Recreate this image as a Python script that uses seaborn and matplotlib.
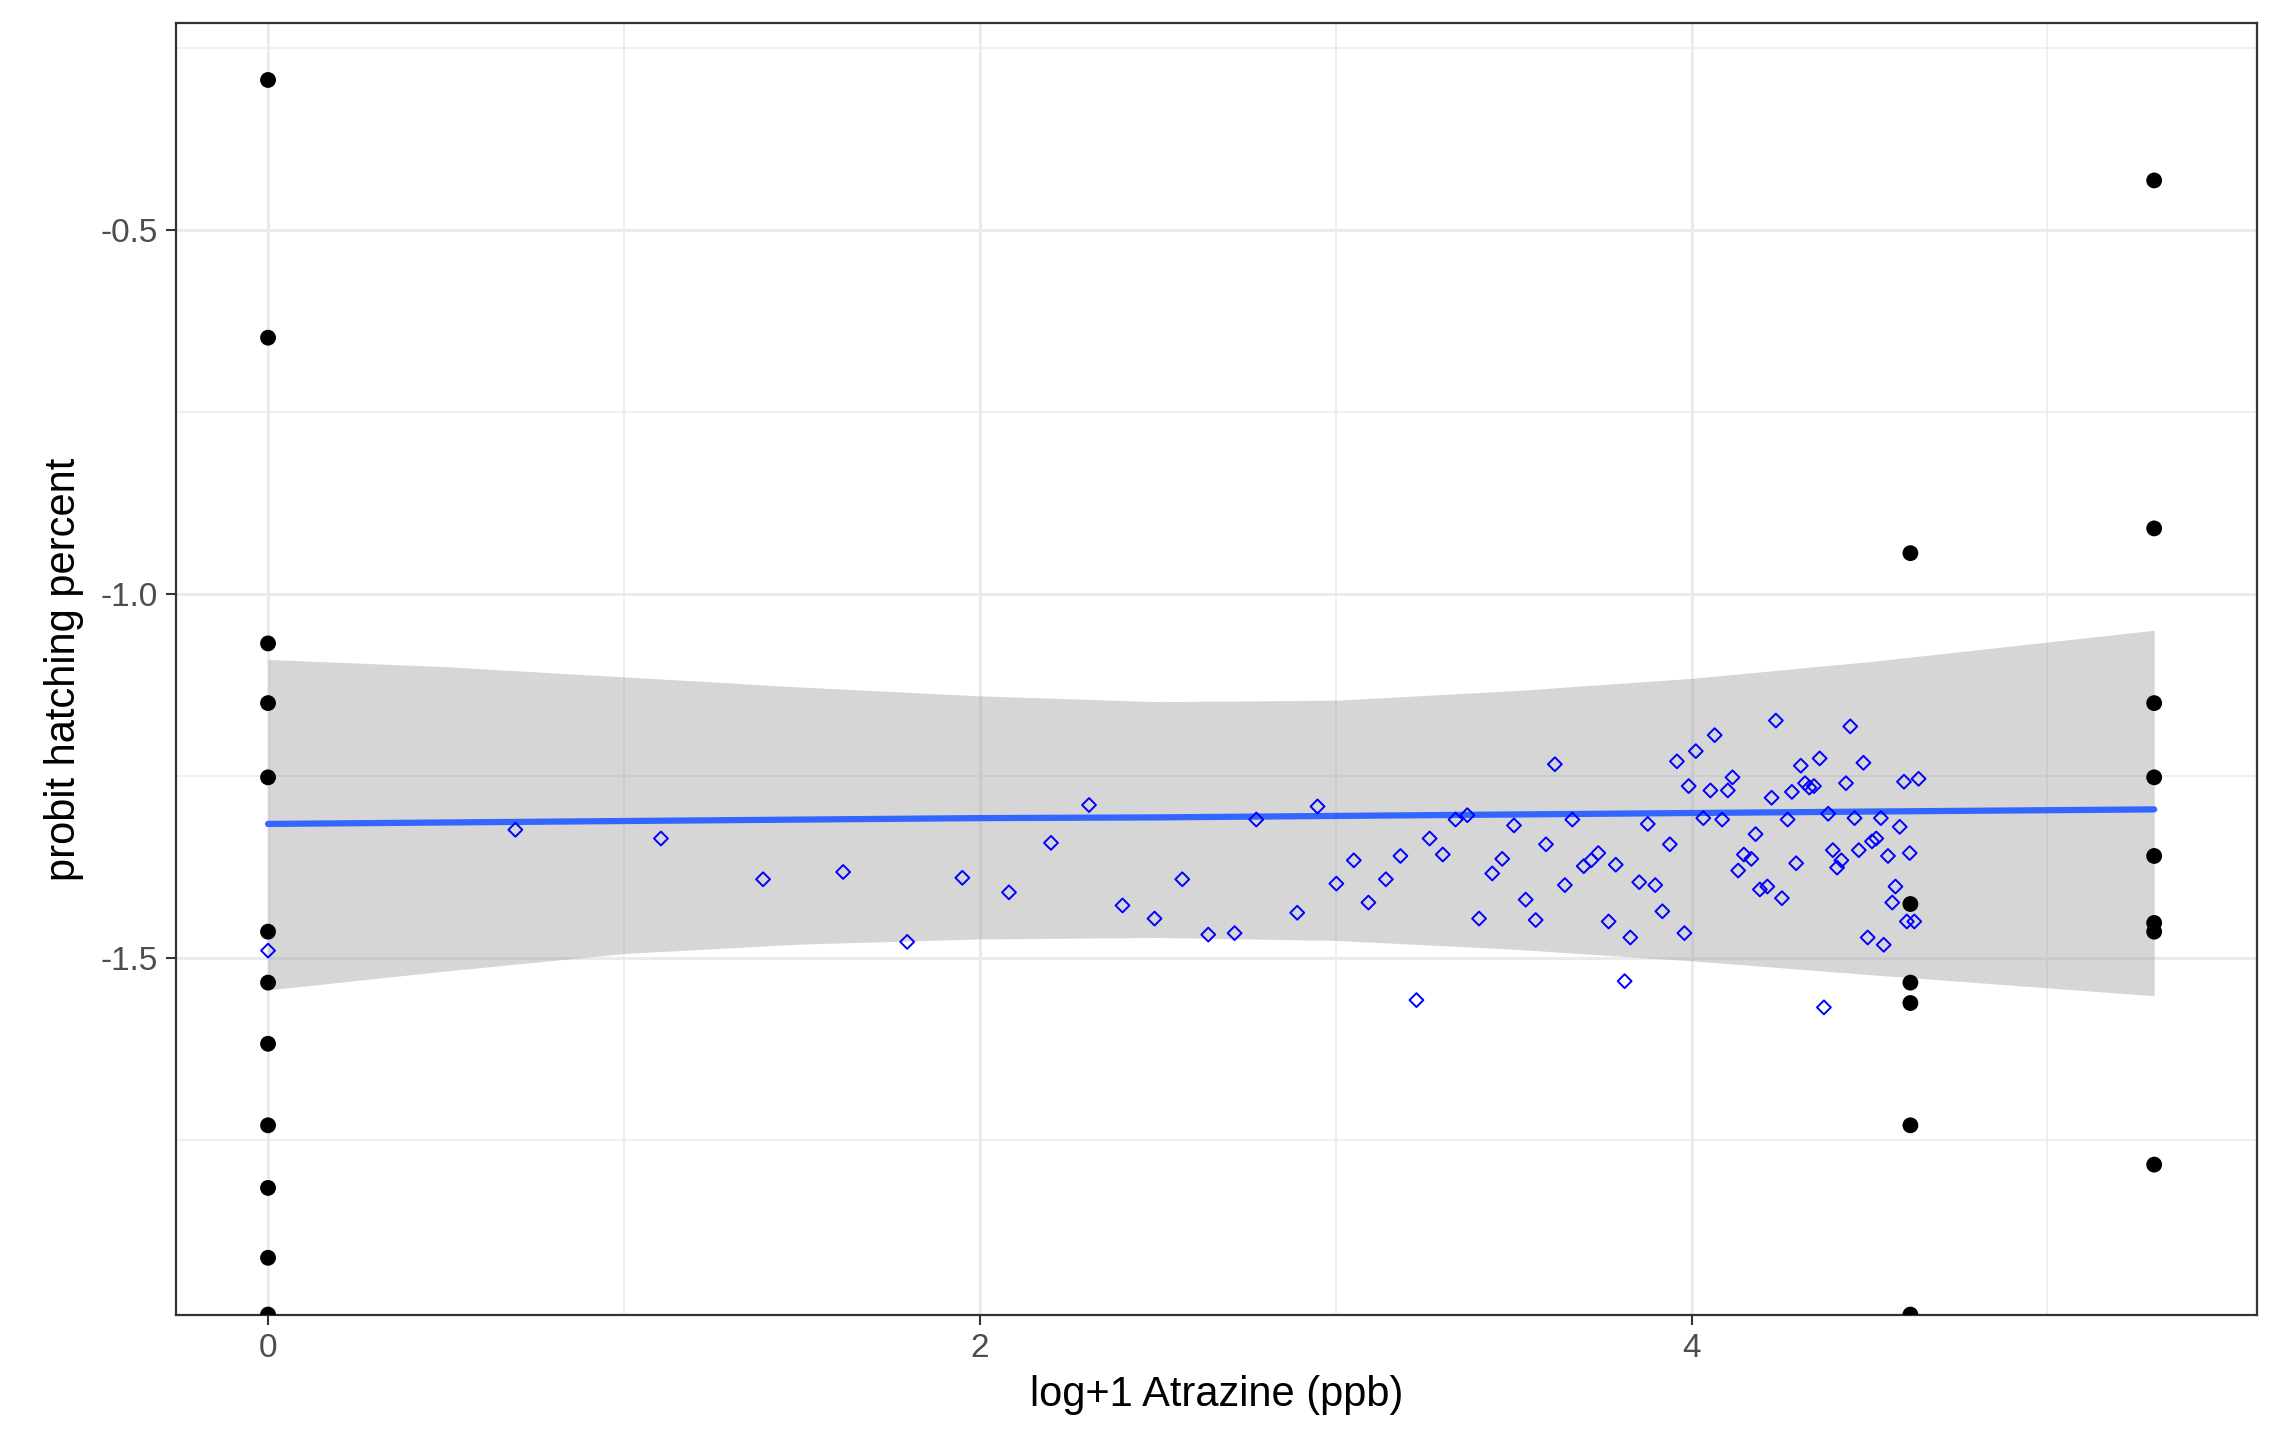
import numpy as np
import pandas as pd
import seaborn as sns
import matplotlib.pyplot as plt
from matplotlib.ticker import MultipleLocator

# --- data ---
black_x = [0.0] * 12 + [4.615] * 6 + [5.30] * 8
black_y = [-0.294, -0.648, -1.068, -1.15, -1.252, -1.464, -1.534, -1.618, -1.73, -1.816, -1.912, -1.99,
           -0.944, -1.426, -1.534, -1.562, -1.73, -1.99,
           -0.432, -0.91, -1.15, -1.252, -1.36, -1.452, -1.464, -1.784]

blue_x = [0, 0.695, 1.104, 1.391, 1.616, 1.796, 1.951, 2.082, 2.2, 2.307, 2.401, 2.491, 2.569, 2.642,
          2.716, 2.777, 2.892, 2.949, 3.002, 3.051, 3.092, 3.141, 3.182, 3.227, 3.264, 3.301, 3.337,
          3.37, 3.403, 3.44, 3.468, 3.501, 3.534, 3.562, 3.591, 3.616, 3.644, 3.665, 3.697, 3.718,
          3.738, 3.767, 3.787, 3.812, 3.828, 3.853, 3.877, 3.898, 3.918, 3.939, 3.959, 3.98, 3.992,
          4.012, 4.033, 4.053, 4.065, 4.086, 4.102, 4.115, 4.131, 4.147, 4.168, 4.18, 4.192, 4.213,
          4.225, 4.237, 4.254, 4.27, 4.282, 4.294, 4.307, 4.319, 4.331, 4.344, 4.36, 4.372, 4.384,
          4.397, 4.409, 4.421, 4.434, 4.446, 4.458, 4.47, 4.483, 4.495, 4.507, 4.519, 4.532, 4.54,
          4.552, 4.564, 4.573, 4.585, 4.597, 4.605, 4.613, 4.626, 4.638]
blue_y = [-1.49, -1.324, -1.336, -1.392, -1.382, -1.478, -1.39, -1.41, -1.342, -1.29, -1.428, -1.446,
          -1.392, -1.468, -1.466, -1.31, -1.438, -1.292, -1.398, -1.366, -1.424, -1.392, -1.36, -1.558,
          -1.336, -1.358, -1.31, -1.304, -1.446, -1.384, -1.364, -1.318, -1.42, -1.448, -1.344, -1.234,
          -1.4, -1.31, -1.374, -1.366, -1.356, -1.45, -1.372, -1.532, -1.472, -1.396, -1.316, -1.4,
          -1.436, -1.344, -1.23, -1.466, -1.264, -1.216, -1.308, -1.27, -1.194, -1.31, -1.27, -1.252,
          -1.38, -1.358, -1.364, -1.33, -1.406, -1.402, -1.28, -1.174, -1.418, -1.31, -1.272, -1.37,
          -1.236, -1.26, -1.266, -1.264, -1.226, -1.568, -1.302, -1.352, -1.376, -1.366, -1.26, -1.182,
          -1.308, -1.352, -1.232, -1.472, -1.34, -1.336, -1.308, -1.482, -1.36, -1.424, -1.402, -1.32,
          -1.258, -1.45, -1.356, -1.45, -1.254]

fit_x = [0, 0.5, 1, 1.5, 2, 2.5, 3, 3.5, 4, 4.5, 5.30]
fit_y = [-1.316, -1.314, -1.312, -1.31, -1.308, -1.307, -1.305, -1.303, -1.301, -1.299, -1.296]
fit_hi = [-1.09, -1.10, -1.114, -1.128, -1.14, -1.148, -1.146, -1.133, -1.116, -1.093, -1.05]
fit_lo = [-1.544, -1.518, -1.494, -1.481, -1.474, -1.472, -1.476, -1.488, -1.504, -1.523, -1.552]

sns.set_style("white")
plt.rcParams['font.family'] = ['Liberation Sans', 'DejaVu Sans']

fig = plt.figure(figsize=(22.71, 14.5), dpi=100)
ax = fig.add_axes([0.0776, 0.0934, 0.9164, 0.8906])

ax.fill_between(fit_x, fit_lo, fit_hi, color='#999999', alpha=0.4, lw=0, zorder=2)
ax.plot(fit_x, fit_y, color='#3366FF', lw=4.5, zorder=3)
sns.scatterplot(x=black_x, y=black_y, ax=ax, color='black', s=130, edgecolor='none', zorder=4)
sns.scatterplot(x=blue_x, y=blue_y, ax=ax, marker='D', s=50, facecolor='none',
                edgecolor='blue', linewidth=1.4, zorder=5)

ax.set_xlim(-0.258, 5.59)
ax.set_ylim(-1.99, -0.216)
ax.xaxis.set_major_locator(MultipleLocator(2))
ax.xaxis.set_minor_locator(MultipleLocator(1))
ax.yaxis.set_major_locator(MultipleLocator(0.5))
ax.yaxis.set_minor_locator(MultipleLocator(0.25))
ax.set_yticks([-1.5, -1.0, -0.5])
ax.set_yticklabels(['-1.5', '-1.0', '-0.5'])
ax.grid(which='major', color='#EBEBEB', lw=2.2, zorder=0)
ax.grid(which='minor', color='#EBEBEB', lw=1.1, zorder=0)
ax.set_axisbelow(True)
for s in ax.spines.values():
    s.set_color('#333333')
    s.set_linewidth(1.6)
ax.tick_params(which='major', length=7, width=1.5, color='#333333', pad=6,
               labelsize=24, labelcolor='#4D4D4D', left=True, bottom=True)
ax.tick_params(which='minor', length=0)
ax.set_xlabel('log+1 Atrazine (ppb)', fontsize=30, color='black', labelpad=8)
ax.set_ylabel('probit hatching percent', fontsize=30, color='black', labelpad=12)

fig.savefig('out.png', dpi=100)
